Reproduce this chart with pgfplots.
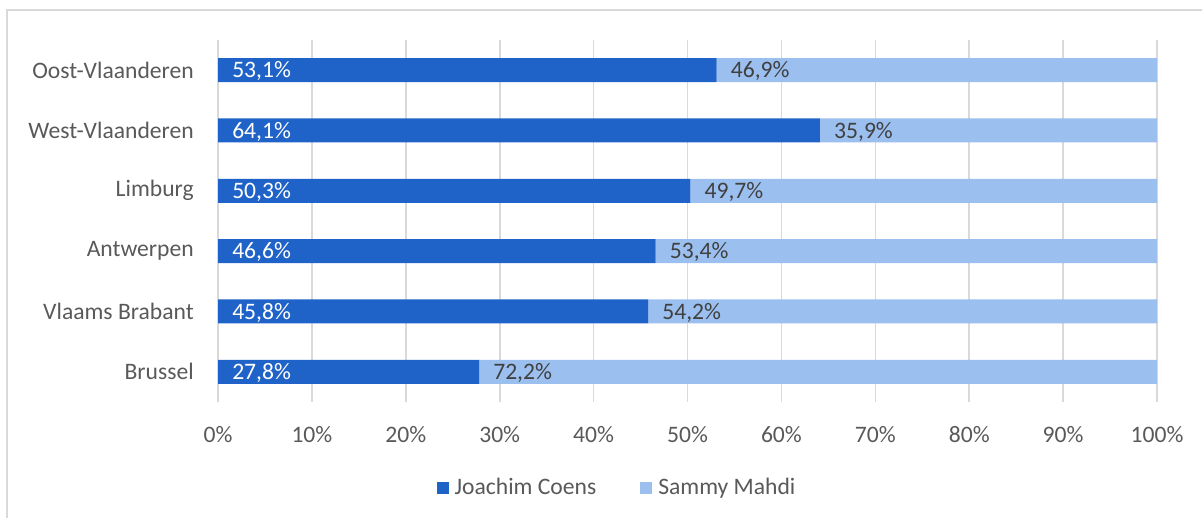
\documentclass[border=0pt]{standalone}
\usepackage{pgfplots}
\usepackage{pgfplotstable}
\pgfplotsset{compat=1.18}
\usepackage{fontspec}
\setmainfont{Carlito}

\definecolor{coens}{HTML}{1F63C8}
\definecolor{mahdi}{HTML}{9BBFEF}
\definecolor{txt}{HTML}{595959}
\definecolor{gridc}{HTML}{D9D9D9}

% uitslag per provincie (%)
\pgfplotstableread{
y region coens mahdi
0 Brussel 27.8 72.2
1 {Vlaams Brabant} 45.8 54.2
2 Antwerpen 46.6 53.4
3 Limburg 50.3 49.7
4 West-Vlaanderen 64.1 35.9
5 Oost-Vlaanderen 53.1 46.9
}\uitslag

\pgfplotsset{
  basis/.style={
    at={(109pt,58pt)}, anchor=south west,
    scale only axis,
    width=469.5pt, height=181pt,
    xmin=0, xmax=100,
    ymin=-0.5, ymax=5.5,
    /pgf/number format/assume math mode=true,
  },
}

\begin{document}
\fontsize{11.8}{14}\selectfont
\begin{tikzpicture}
\useasboundingbox (0,0) rectangle (601pt,259pt);
\draw[gridc, line width=0.8pt] (3.5pt,0) -- (3.5pt,254pt) -- (601pt,254pt);
\begin{axis}[
    basis,
    xbar stacked,
    bar width=12pt,
    xtick={0,10,...,100},
    xticklabel={\pgfmathprintnumber{\tick}\%},
    ytick={0,...,5},
    yticklabels from table={\uitslag}{region},
    xmajorgrids,
    grid style={gridc, line width=0.8pt},
    axis line style={draw=none},
    major tick length=0pt,
    tick label style={txt, font=\fontsize{11.8}{14}\selectfont},
    xticklabel style={yshift=-8pt},
    yticklabel style={xshift=-8pt},
    legend style={at={(0.426,-0.2376)}, anchor=center, draw=none,
        legend columns=-1, font=\fontsize{11.8}{14}\selectfont, text=txt,
        /tikz/every even column/.append style={column sep=20pt},
        inner sep=0pt},
    legend image code/.code={\fill[#1] (0pt,-3pt) rectangle (6pt,3pt);},
]
\addplot[fill=coens, draw=none] table[x=coens, y=y]{\uitslag};
\addplot[fill=mahdi, draw=none] table[x=mahdi, y=y]{\uitslag};
\legend{\hspace{1pt}Joachim Coens, \hspace{1pt}Sammy Mahdi}
\end{axis}
% labels aan het begin van elk segment
\begin{axis}[
    basis,
    hide axis,
    nodes near coords={\pgfmathprintnumber[fixed,fixed zerofill,precision=1,use comma]{\pgfplotspointmeta}\%},
    every node near coord/.append style={anchor=west, xshift=3pt, yshift=-0.5pt,
        font=\fontsize{11.8}{14}\selectfont},
]
\addplot[only marks, mark size=0pt, point meta=\thisrow{coens},
    every node near coord/.append style={white}]
    table[x expr=0, y=y]{\uitslag};
\addplot[only marks, mark size=0pt, point meta=\thisrow{mahdi},
    every node near coord/.append style={black!75}]
    table[x=coens, y=y]{\uitslag};
\end{axis}
\end{tikzpicture}
\end{document}
